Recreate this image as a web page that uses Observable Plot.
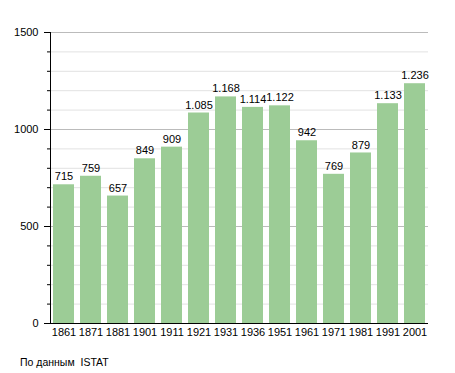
<!DOCTYPE html>
<html><head><meta charset="utf-8">
<script src="https://cdn.jsdelivr.net/npm/d3@7"></script>
<script src="https://cdn.jsdelivr.net/npm/@observablehq/plot@0.6"></script>
<style>
body{margin:0;background:#fff;font-family:"Liberation Sans",Arial,sans-serif;}
#cap{position:absolute;left:20px;top:356px;font-size:10.5px;color:#000;}
</style></head>
<body><div id="chart"></div><div id="cap">По данным&nbsp; ISTAT</div>
<script>
const years = ["1861","1871","1881","1901","1911","1921","1931","1936","1951","1961","1971","1981","1991","2001"];
const population = [715,759,657,849,909,1085,1168,1114,1122,942,769,879,1133,1236];
const majorTicks = [0,500,1000,1500];
const minorTicks = d3.range(0,1501,100);

const data = years.map((y,i)=>({year:y, value:population[i]}));
const fmt = v => v >= 1000 ? String(v).replace(/(\d)(\d{3})$/, "$1.$2") : String(v);

const chart = Plot.plot({
  width: 455, height: 345,
  marginLeft: 50, marginRight: 27, marginTop: 32, marginBottom: 22,
  style: {fontFamily: '"Liberation Sans", Arial, sans-serif', fontSize: "11px", color: "#000", background: "#fff"},
  x: {domain: years, paddingInner: 0.22, paddingOuter: 0.05, label: null},
  y: {domain: [0,1500], label: null},
  marks: [
    Plot.ruleY(minorTicks.filter(d=>d>0), {stroke: d => d % 500 === 0 ? "#bbb" : "#e2e2e2", strokeOpacity: 1, strokeWidth: 1}),
    Plot.barY(data, {x:"year", y:"value", fill:"#9ccc96"}),
    Plot.text(data, {x:"year", y:"value", text: d=>fmt(d.value), dy:-8, fontSize: 11, fill:"#000"}),
    Plot.axisY({ticks: minorTicks, tickSize: 3, tickFormat: () => "", anchor:"left"}),
    Plot.axisY({ticks: majorTicks, tickSize: 6, tickPadding: 6, tickFormat: d=>String(d), anchor:"left", fontSize: 11}),
    Plot.axisX({tickSize: 0, tickPadding: 5, fontSize: 11}),
    Plot.frame({anchor:"left", stroke:"#000"}),
    Plot.ruleY([0], {stroke:"#000"})
  ]
});
document.getElementById("chart").appendChild(chart);
</script></body></html>
